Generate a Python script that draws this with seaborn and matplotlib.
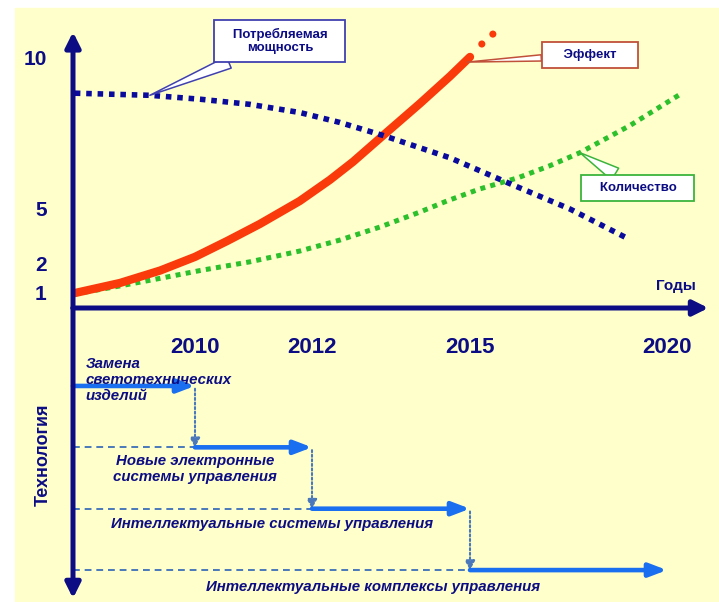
import numpy as np
import matplotlib.pyplot as plt
from matplotlib.patches import Rectangle
import seaborn as sns

# Curves (years / relative level)
years_effect = [2008.03, 2008.77, 2009.43, 2010.0, 2010.55, 2011.11, 2011.79,
                2012.34, 2012.78, 2013.35, 2014.05, 2014.62, 2015.0]
effect = [0.65, 1.07, 1.5, 1.97, 2.82, 3.75, 5.0, 5.7, 6.3, 7.17, 8.23, 9.13, 9.77]
years_effect_next = [2015.3, 2015.58]
effect_next = [10.2, 10.53]

years_power = [2008.03, 2009.26, 2010.09, 2010.94, 2011.79, 2012.53, 2013.35,
               2014.62, 2016.09, 2017.54, 2018.98]
power = [8.57, 8.5, 8.37, 8.2, 7.93, 7.6, 7.17, 6.43, 5.53, 4.56, 2.98]

years_count = [2008.03, 2008.77, 2009.43, 2010.09, 2010.94, 2011.79, 2012.53,
               2013.29, 2014.05, 2014.56, 2015.25, 2016.22, 2017.03, 2017.79,
               2019.06, 2020.33]
count = [0.61, 0.96, 1.23, 1.5, 1.8, 2.27, 2.87, 3.58, 4.4, 5.0, 5.4, 5.77,
         6.17, 6.6, 7.5, 8.53]

year_ticks = [2010, 2012, 2015, 2020]
level_ticks = [1, 2, 5, 10]

# Technology stages
stages = ["Замена\nсветотехнических\nизделий",
          "Новые электронные\nсистемы управления",
          "Интеллектуальные системы управления",
          "Интеллектуальные комплексы управления"]
stage_rows = [1, 2, 3, 4]
stage_start = [2008, 2010, 2012, 2015]
stage_end = [2010, 2012, 2015, 2020]

# colours
navy = "#0C0C84"
red = "#FA3A0A"
green = "#2CC02C"
blue_dots = "#0A0A9C"
arrow_blue = "#1A6EF0"
guide = "#4A78BA"
yellow = "#FFFFCC"

sns.set_style("white")
plt.rcParams["font.family"] = ["Liberation Sans", "DejaVu Sans"]

# the schematic axes are not linear: piecewise scale (years -> px, level -> px)
x_knots = [1990, 2008, 2010, 2012, 2015, 2020, 2040]
x_pos = [73 - 18 * 61, 73, 195, 312, 470, 667, 667 + 20 * 39.4]
y_knots = [-10, 0, 1, 2, 5, 10, 30]
y_pos = [-230, 0, 23, 52, 107, 258, 858]


def xf(v):
    return np.interp(v, x_knots, x_pos)


def xi(p):
    return np.interp(p, x_pos, x_knots)


def yf(v):
    return np.interp(v, y_knots, y_pos)


def yi(p):
    return np.interp(p, y_pos, y_knots)


W, H = 719, 602
fig = plt.figure(figsize=(W / 100, H / 100), dpi=100)
fig.patch.set_facecolor("white")
fig.add_artist(Rectangle((15 / W, 0), 1, (H - 8) / H, transform=fig.transFigure,
                         color=yellow, zorder=-10))

ax = fig.add_axes([73 / W, (H - 308) / H, (W - 73) / W, 308 / H])
ax2 = fig.add_axes([73 / W, 0, (W - 73) / W, (H - 308) / H])
for a in (ax, ax2):
    a.set_facecolor("none")
    a.set_xscale("function", functions=(xf, xi))
    a.set_xlim(2008, float(xi(W)))
    for s in a.spines.values():
        s.set_visible(False)
ax.set_yscale("function", functions=(yf, yi))
ax.set_ylim(0, float(yi(308)))
ax2.set_ylim(4.52, -0.27)

# ---- upper chart ----
sns.lineplot(x=years_count, y=count, ax=ax, color=green, linewidth=3.6,
             linestyle=(0, (1, 1.05)), estimator=None, sort=False, zorder=3)
sns.lineplot(x=years_effect, y=effect, ax=ax, color=red, linewidth=6,
             solid_capstyle="round", solid_joinstyle="round",
             estimator=None, sort=False, zorder=4)
sns.scatterplot(x=years_effect_next, y=effect_next, ax=ax, color=red, s=26,
                edgecolor="none", zorder=4)
sns.lineplot(x=years_power, y=power, ax=ax, color=blue_dots, linewidth=4,
             linestyle=(0, (1, 1.05)), estimator=None, sort=False, zorder=5)

axis_arrow = dict(arrowstyle="-|>,head_length=0.9,head_width=0.45", color=navy,
                  lw=3.6, shrinkA=0, shrinkB=0, mutation_scale=10)
ax.annotate("", xy=(2008, 10.6), xytext=(2008, 0), arrowprops=axis_arrow,
            annotation_clip=False, zorder=6)
ax.annotate("", xy=(2021.05, 0), xytext=(2008, 0), arrowprops=axis_arrow,
            annotation_clip=False, zorder=6)

ax.set_xticks(year_ticks, labels=[str(y) for y in year_ticks], fontsize=16,
              fontweight="bold", color=navy)
ax.tick_params(axis="x", direction="out", length=10.8, width=3, color=navy, pad=10)
ax.set_yticks(level_ticks, labels=[str(v) for v in level_ticks], va="top",
              fontsize=15, fontweight="bold", color=navy)
ax.tick_params(axis="y", direction="out", length=8, width=3, color=navy, pad=11)
ax.text(2020.23, 0.96, "Годы", ha="center", va="center", fontsize=11,
        fontweight="bold", color=navy)

# callouts
def callout(text, tip, at, edge, tail):
    ax.annotate(text, xy=tip, xytext=at, ha="center", va="center",
                fontsize=9.5, fontweight="bold", color=navy, zorder=8,
                annotation_clip=False,
                bbox=dict(boxstyle="square,pad=0.55", fc="white", ec=edge, lw=1.3),
                arrowprops=dict(arrowstyle=f"wedge,tail_width={tail},shrink_factor=0.5",
                                fc="white", ec=edge, lw=1.1, mutation_scale=10,
                                shrinkA=0, shrinkB=0))


callout("   Потребляемая   \nмощность", (2009.26, 8.5), (2011.45, 10.3), "#4040B0", 0.9)
callout("    Эффект    ", (2014.95, 9.6), (2018.05, 9.83), "#C0503A", 0.45)
callout("   Количество   ", (2017.79, 6.6), (2019.26, 5.43), "#3CB43C", 1.0)

# ---- technology timeline ----
ax2.annotate("", xy=(2008, 4.46), xytext=(2008, -0.27), arrowprops=axis_arrow,
             annotation_clip=False, zorder=6)
ax2.hlines(stage_rows[1:], 2008, stage_start[1:], colors=guide,
           linestyles=(0, (3.5, 2.5)), lw=1.4, zorder=2)
for i, r in enumerate(stage_rows):
    ax2.annotate("", xy=(stage_end[i], r), xytext=(stage_start[i], r),
                 arrowprops=dict(arrowstyle="-|>,head_length=1.05,head_width=0.4",
                                 color=arrow_blue, lw=3.3, shrinkA=0, shrinkB=0,
                                 mutation_scale=10),
                 annotation_clip=False, zorder=3)
    if i + 1 < len(stage_rows):
        ax2.annotate("", xy=(stage_end[i], stage_rows[i + 1]),
                     xytext=(stage_end[i], r),
                     arrowprops=dict(arrowstyle="-|>,head_length=0.55,head_width=0.3",
                                     color=guide, lw=1.5, ls=(0, (1, 1.2)),
                                     shrinkA=2, shrinkB=0, mutation_scale=10),
                     annotation_clip=False, zorder=3)

text_kw = dict(fontsize=10.8, fontweight="bold", fontstyle="italic", color=navy,
               zorder=7, va="center")
ax2.text(2008.21, 0.9, stages[0], ha="left", linespacing=1.2, **text_kw)
ax2.text(2010.0, 2.354, stages[1], ha="center", multialignment="center",
         linespacing=1.2, **text_kw)
ax2.text(2011.32, 3.25, stages[2], ha="center", **text_kw)
ax2.text(2013.16, 4.28, stages[3], ha="center", **text_kw)
ax2.text(2007.52, 2.125, "Технология", rotation=90, ha="center", va="center",
         fontsize=13, fontweight="bold", color=navy)

ax2.set_xticks([])
ax2.set_yticks([])

fig.savefig("out.png", dpi=100)
